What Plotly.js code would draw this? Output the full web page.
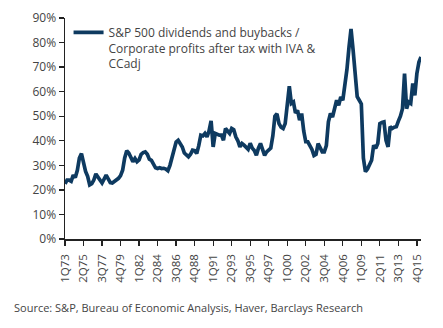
<!DOCTYPE html>
<html>
<head>
<meta charset="utf-8">
<script src="https://cdn.plot.ly/plotly-3.0.1.min.js"></script>
<style>html,body{margin:0;padding:0;background:#fff;}#chart{width:443px;height:328px;}</style>
</head>
<body>
<div id="chart"></div>
<script>
// Quarterly, 1Q73 .. 2Q16 (index 0 = 1Q73)
const seriesName = "S&P 500 dividends and buybacks /<br>Corporate profits after tax with IVA &<br>CCadj";
const ratioPct = [
  22.5, 24, 24, 23.5, 26, 25, 28, 33, 34.8, 31,
  27.5, 25.5, 22, 22.5, 24, 26.5, 25.5, 24, 22.8, 24.5,
  26, 24.5, 23, 22.8, 23.3, 24, 24.7, 25.8, 28, 33,
  35.9, 35, 33, 31.5, 32.8, 31.5, 32.2, 34.5, 35.2, 35.5,
  34.5, 32.5, 32, 30.5, 29, 28.7, 29, 28.7, 28.8, 28.5,
  27.8, 30, 33.5, 37, 39.5, 40.2, 39, 37.5, 35, 34,
  33.5, 34.5, 36.2, 36, 34.8, 38, 42.3, 42, 43, 41.6,
  44, 48.1, 37.5, 43, 42.5, 42.3, 42.3, 40.2, 45, 44,
  43, 45, 44.5, 41.6, 40, 37.5, 38.9, 38.2, 37.5, 36.5,
  39, 37, 36, 34.1, 37, 38.9, 36.5, 34.1, 35.5, 36.5,
  37, 42, 50, 51, 47, 45.5, 45, 47, 55, 62.2,
  55.2, 55.8, 51.3, 52.4, 48.4, 51.1, 44, 39.6, 39.6, 38,
  36.5, 34, 34.5, 38.9, 36.9, 35.5, 35.5, 38, 47.7, 51.1,
  49.7, 54, 56.5, 54.5, 57.8, 56.5, 62, 69, 78, 85.5,
  77, 66, 58, 56.5, 55, 33, 27.4, 28.5, 30.1, 32.1,
  38.2, 36.9, 38.9, 47, 47.5, 47.7, 40.2, 37.5, 45.7, 45,
  45.5, 45.7, 48, 50, 53.1, 67.4, 53.1, 55.8, 55.2, 63.3,
  58.5, 67.4, 72.1, 74.1
];
const tickLabels = ["1Q73","2Q75","3Q77","4Q79","1Q82","2Q84","3Q86","4Q88","1Q91","2Q93","3Q95","4Q97","1Q00","2Q02","3Q04","4Q06","1Q09","2Q11","3Q13","4Q15"];
const yTicks = [0,10,20,30,40,50,60,70,80,90];

const xIdx = ratioPct.map((_, i) => i);
const tickVals = tickLabels.map((_, k) => k * 9);

const FONT = "Open Sans, Noto Sans, sans-serif";
const trace = {
  x: xIdx, y: ratioPct, type: "scatter", mode: "lines",
  name: seriesName,
  line: {color: "#0e3a60", width: 3.7, shape: "linear"},
  hoverinfo: "skip"
};
const layout = {
  width: 443, height: 328,
  margin: {l: 65, r: 22, t: 18, b: 89, pad: 0},
  paper_bgcolor: "#ffffff", plot_bgcolor: "#ffffff",
  font: {family: FONT, size: 12, color: "#444"},
  showlegend: true,
  legend: {x: 0.01, y: 1.0, xanchor: "left", yanchor: "top", valign: "top",
           bgcolor: "rgba(0,0,0,0)", borderwidth: 0, font: {family: FONT, size: 12, color: "#444"},
           tracegroupgap: 0, itemwidth: 30},
  xaxis: {
    range: [0, xIdx.length - 1], tickmode: "array", tickvals: tickVals, ticktext: tickLabels,
    tickangle: -90, ticks: "outside", ticklen: 5, tickwidth: 1.3, tickcolor: "#222",
    ticklabelstandoff: 4,
    showline: true, linecolor: "#222", linewidth: 1.5, showgrid: false, zeroline: false,
    tickfont: {family: FONT, size: 11.5, color: "#444"}, fixedrange: true
  },
  yaxis: {
    range: [0, 90], tickmode: "array", tickvals: yTicks, ticktext: yTicks.map(v => v + "%"),
    ticks: "outside", ticklen: 5, tickwidth: 1.3, tickcolor: "#222",
    showline: true, linecolor: "#222", linewidth: 1.5, showgrid: false, zeroline: false,
    tickfont: {family: FONT, size: 12, color: "#444"}, fixedrange: true
  },
  annotations: [{
    text: "Source: S&P, Bureau of Economic Analysis, Haver, Barclays Research",
    xref: "paper", yref: "paper", x: -0.15, y: -0.308, xanchor: "left", yanchor: "middle",
    showarrow: false, font: {family: FONT, size: 11, color: "#444"}
  }]
};
Plotly.newPlot("chart", [trace], layout, {displayModeBar: false, staticPlot: true});
</script>
</body>
</html>
